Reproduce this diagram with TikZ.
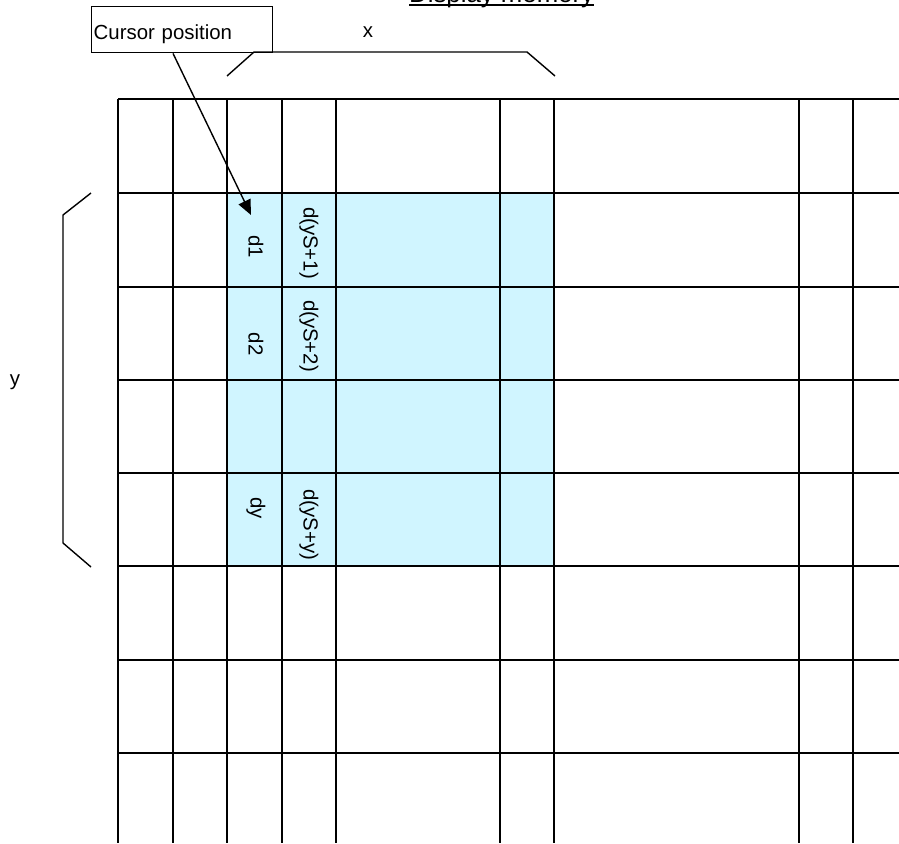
\documentclass[tikz,border=0pt]{standalone}
\usepackage{fontspec}
\setmainfont{Liberation Sans}
\usepackage{xcolor}
\usetikzlibrary{arrows.meta}
\definecolor{memfill}{RGB}{208,245,255}

\begin{document}
\begin{tikzpicture}%
  [x=1pt,y=-1pt,
   cell label/.style={rotate=-90,inner sep=0,font=\fontsize{20.4}{24}\selectfont}]
  \tikzstyle{grid line}=[line width=1.6pt]
  \tikzstyle{brace line}=[line width=1.4pt]
  \tikzstyle{plain text}=[inner sep=0,font=\fontsize{20.4}{24}\selectfont]
  \useasboundingbox (0,0) rectangle (899,843);
  % selected block
  \fill[memfill] (227,193) rectangle (554,566);
  % memory grid
  \foreach \x in {118,173,227,282,336,500,554,799,853}
    \draw[grid line] (\x,99) -- (\x,843);
  \foreach \y in {99,193,287,380,473,566,660,753}
    \draw[grid line] (118,\y) -- (899,\y);
  % title
  \node(title)[anchor=base west,inner sep=0,font=\fontsize{25.8}{30}\selectfont]
    at (409,2.5) {Display memory};
  \draw[line width=1.4pt] ([yshift=-2.5pt]title.base west) -- ([yshift=-2.5pt]title.base east);
  % braces
  \draw[brace line] (227,76) -- (254,52) -- (527,52) -- (555,76);
  \draw[brace line] (91,193) -- (63,215) -- (63,543) -- (91,567);
  \node(xlabel)[plain text] at (368,32) {x};
  \node(ylabel)[plain text] at (15,382) {y};
  % cursor
  \node(cursor)[draw,line width=1.4pt,anchor=north west,align=left,
    text width=177pt,inner xsep=2pt,inner ysep=0,minimum height=46pt,
    text height=24pt,text depth=4pt,font=\fontsize{20.4}{24}\selectfont]
    at (91,6) {Cursor position};
  \coordinate(tip) at (251,215);
  \draw[-{Triangle[length=15pt,width=13pt]},line width=1.4pt]
    ([xshift=82pt]cursor.south west) -- (tip);
  % data labels
  \node(d1)[cell label] at (256,247) {d1};
  \node(dS1)[cell label] at (309,243) {d(yS+1)};
  \node(d2)[cell label] at (256,344) {d2};
  \node(dS2)[cell label] at (309,336) {d(yS+2)};
  \node(dy)[cell label] at (256,508) {dy};
  \node(dSy)[cell label] at (309,525) {d(yS+y)};
\end{tikzpicture}
\end{document}
